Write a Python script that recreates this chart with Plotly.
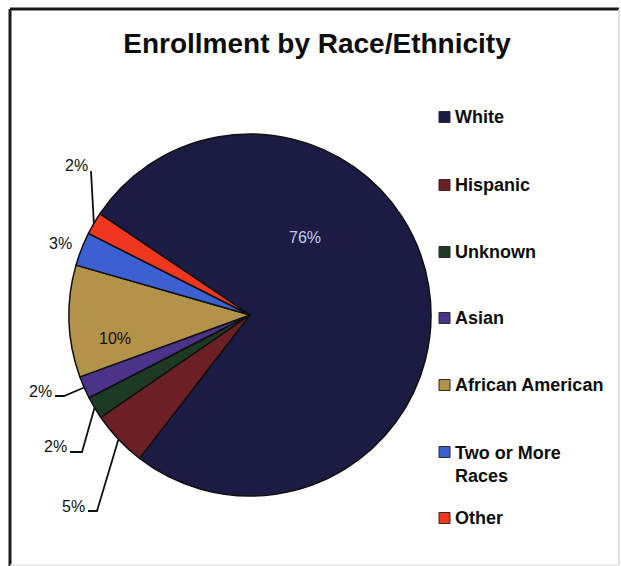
import math
import plotly.graph_objects as go

# Enrollment shares (percent) by race/ethnicity, in slice order
categories = ["White", "Hispanic", "Unknown", "Asian", "African American",
              "Two or More Races", "Other"]
legend_text = ["White", "Hispanic", "Unknown", "Asian", "African American",
               "Two or More<br>Races", "Other"]
shares = [76, 5, 2, 2, 10, 3, 2]
colors = ["#1c1b44", "#6c1f25", "#1e3924", "#4a3389", "#b39249",
          "#3c5fd2", "#f0361f"]

W, H = 621, 566
CX, CY, R = 250, 315, 181          # pie centre / radius in pixels
ROTATION = -56                     # start angle of first slice, clockwise from 12 o'clock
FONT = "Liberation Sans, Arial, sans-serif"


def px(x):
    return x / W


def py(y):
    return 1 - y / H


fig = go.Figure(go.Pie(
    labels=categories,
    values=shares,
    sort=False,
    direction="clockwise",
    rotation=ROTATION,
    textinfo="none",
    hoverinfo="label+percent",
    marker=dict(colors=colors, line=dict(color="#101010", width=1.5)),
    showlegend=False,
    domain=dict(x=[px(CX - R), px(CX + R)], y=[py(CY + R), py(CY - R)]),
))

# mid-angle edge point of every slice, from the values
total = sum(shares)
edge_pts = []
acc = 0.0
for v in shares:
    mid = math.radians(ROTATION + (acc + v / 2) / total * 360)
    edge_pts.append((CX + R * math.sin(mid), CY - R * math.cos(mid)))
    acc += v

# label placement and leader style for each slice
label_style = [
    dict(x=305, y=237, color="#c6cae0", leader=None),
    dict(x=73, y=506, color="#111111", leader=(88, 97)),
    dict(x=55, y=447, color="#111111", leader=(70, 82)),
    dict(x=40, y=391, color="#111111", leader=(55, 64)),
    dict(x=115, y=338, color="#111111", leader=None),
    dict(x=60, y=244, color="#111111", leader=None),
    dict(x=76, y=165, color="#111111", leader="straight"),
]

annotations = []
shapes = []
for v, st, (ex, ey) in zip(shares, label_style, edge_pts):
    annotations.append(dict(
        x=px(st["x"]), y=py(st["y"]), xref="paper", yref="paper",
        text=f"{v / total * 100:.0f}%", showarrow=False,
        xanchor="center", yanchor="middle",
        font=dict(family=FONT, size=16, color=st["color"]),
    ))
    ld = st["leader"]
    if ld == "straight":
        x0, y0 = st["x"] + 15, st["y"] + 6
        path = f"M {px(x0)} {py(y0)} L {px(ex)} {py(ey)}"
    elif ld is not None:
        y0 = st["y"] + 5
        path = (f"M {px(ld[0])} {py(y0)} L {px(ld[1])} {py(y0)} "
                f"L {px(ex)} {py(ey)}")
    else:
        continue
    shapes.append(dict(type="path", path=path, xref="paper", yref="paper",
                       line=dict(color="#111111", width=1.8)))

# legend column
legend_rows = [117, 185, 252, 318, 385, 452, 518]
for name, col, ry in zip(legend_text, colors, legend_rows):
    nlines = name.count("<br>") + 1
    shapes.append(dict(type="rect", xref="paper", yref="paper",
                       x0=px(439), x1=px(450), y0=py(ry + 5.5), y1=py(ry - 5.5),
                       fillcolor=col, line=dict(color="#2a2a2a", width=1)))
    annotations.append(dict(
        x=px(453), y=py(ry + (nlines - 1) * 12.5), xref="paper", yref="paper",
        text=name, showarrow=False, xanchor="left", yanchor="middle",
        align="left",
        font=dict(family=FONT, size=18, color="#0d0d0d", weight="bold"),
    ))

# chart frame
shapes += [
    dict(type="line", xref="paper", yref="paper", x0=px(10), x1=px(10),
         y0=py(9), y1=py(566), line=dict(color="#1a1a1a", width=3)),
    dict(type="line", xref="paper", yref="paper", x0=px(10), x1=px(619),
         y0=py(9), y1=py(9), line=dict(color="#1a1a1a", width=3)),
    dict(type="line", xref="paper", yref="paper", x0=px(619), x1=px(619),
         y0=py(9), y1=py(565), line=dict(color="#d6d6d6", width=1.5)),
    dict(type="line", xref="paper", yref="paper", x0=px(10), x1=px(619),
         y0=py(565), y1=py(565), line=dict(color="#e4e4e4", width=1.5)),
]

fig.update_layout(
    width=W, height=H,
    margin=dict(l=0, r=0, t=0, b=0),
    paper_bgcolor="white",
    plot_bgcolor="white",
    title=dict(text="<b>Enrollment by Race/Ethnicity</b>",
               x=px(317), y=py(43), xanchor="center", yanchor="middle",
               font=dict(family=FONT, size=28, color="#0d0d0d")),
    annotations=annotations,
    shapes=shapes,
)

fig.write_html("out.html")
